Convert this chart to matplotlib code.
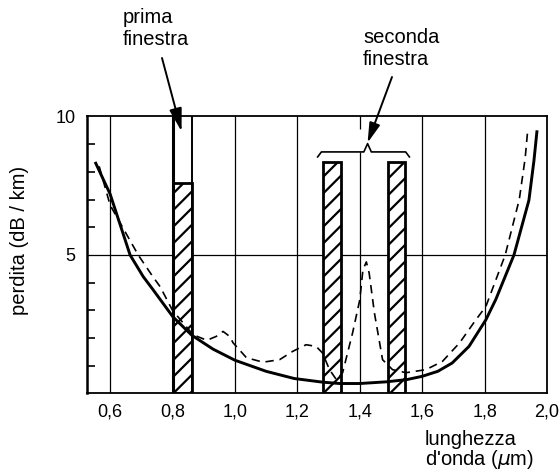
import matplotlib
matplotlib.use("Agg")
import matplotlib.pyplot as plt
from matplotlib.patches import ArrowStyle

plt.rcParams['font.family'] = ['Liberation Sans', 'DejaVu Sans']
plt.rcParams['hatch.linewidth'] = 1.6
plt.rcParams['mathtext.fontset'] = 'dejavusans'

# ---- data ----
solid_x = [0.552, 0.60, 0.664, 0.706, 0.738, 0.801, 0.862, 0.93, 1.00, 1.10, 1.19, 1.28,
           1.335, 1.40, 1.484, 1.55, 1.60, 1.65, 1.696, 1.75, 1.804, 1.836, 1.894,
           1.942, 1.958, 1.968]
solid_y = [8.36, 7.2, 5.0, 4.22, 3.74, 2.77, 2.1, 1.6, 1.2, 0.8, 0.54, 0.41,
           0.36, 0.36, 0.42, 0.5, 0.62, 0.8, 1.1, 1.7, 2.66, 3.4, 5.0,
           6.98, 8.4, 9.5]

dash_x = [0.565, 0.60, 0.69, 0.738, 0.76, 0.80, 0.866, 0.91, 0.94, 0.962, 0.983, 0.994,
          1.037, 1.09, 1.143, 1.185, 1.228, 1.26, 1.28, 1.303, 1.325, 1.345, 1.377,
          1.40, 1.41, 1.421, 1.43, 1.447, 1.473, 1.505, 1.548, 1.612, 1.665, 1.72,
          1.772, 1.804, 1.866, 1.911, 1.93, 1.938]
dash_y = [8.2, 6.8, 5.0, 4.2, 3.86, 3.0, 2.12, 1.92, 2.06, 2.24, 2.06, 1.83,
          1.29, 1.13, 1.22, 1.52, 1.76, 1.7, 1.47, 0.86, 0.5, 0.75, 2.19,
          3.38, 4.46, 4.75, 4.35, 2.9, 1.22, 0.86, 0.75, 0.86, 1.16, 1.83,
          2.66, 3.14, 5.0, 7.0, 8.5, 9.5]

band_left = [0.801, 1.283, 1.490]
band_right = [0.862, 1.340, 1.545]
band_top = [7.6, 8.35, 8.35]

x_ticks = [0.6, 0.8, 1.0, 1.2, 1.4, 1.6, 1.8, 2.0]
x_tick_labels = ['0,6', '0,8', '1,0', '1,2', '1,4', '1,6', '1,8', '2,0']
y_ticks = [5, 10]
y_minor = [1, 2, 3, 4, 6, 7, 8, 9]
grid_x = [0.6, 1.0, 1.2, 1.6, 1.8]

W, H = 559, 470
TXT = 14.5

# ---- figure ----
fig = plt.figure(figsize=(W / 100, H / 100), dpi=100)
ax = fig.add_axes([0.1551, 0.1628, 0.8235, 0.5894])
ax.set_xlim(0.525, 2.0)
ax.set_ylim(0, 10)

for s in ax.spines.values():
    s.set_linewidth(1.3)
ax.spines['left'].set_linewidth(1.8)

# grid
ax.vlines(grid_x, 0, 10, colors='black', lw=0.9, zorder=1)
ax.vlines([1.4], 0, 8.7, colors='black', lw=0.9, zorder=1)
ax.vlines([1.4], 9.55, 10, colors='black', lw=0.9, zorder=1)
ax.axhline(5, color='black', lw=0.9, zorder=1)

# bands
for l, r, t in zip(band_left, band_right, band_top):
    ax.bar(l, t, width=r - l, align='edge', facecolor='white', edgecolor='black',
           hatch='//', lw=2.0, zorder=2)
# first window full-height edges
ax.vlines([band_left[0]], 0, 10, colors='black', lw=2.2, zorder=3)
ax.vlines([band_right[0]], 0, 10, colors='black', lw=1.4, zorder=3)

# curves
ax.plot(solid_x, solid_y, color='black', lw=2.1, zorder=4, solid_capstyle='butt')
ax.plot(dash_x, dash_y, color='black', lw=1.2, dashes=(5, 3.5), zorder=4)

# ticks
ax.set_xticks(x_ticks)
ax.set_xticklabels(x_tick_labels)
ax.set_yticks(y_ticks)
ax.set_yticks(y_minor, minor=True)
ax.tick_params(axis='x', length=0, pad=7, labelsize=13)
ax.tick_params(axis='y', which='major', length=0, pad=8, labelsize=13)
ax.tick_params(axis='y', which='minor', length=6, width=1.2, direction='in')

# labels
fig.text(20 / W, 1 - 240 / H, 'perdita (dB / km)', rotation=90, ha='center',
         va='center', fontsize=TXT)
fig.text(425 / W, 1 - 445 / H, "lunghezza", ha='left', va='baseline', fontsize=TXT)
fig.text(425 / W, 1 - 465 / H, "d'onda ($\\mu$m)", ha='left', va='baseline',
         fontsize=TXT)

# annotations
fig.text(123 / W, 1 - 23 / H, 'prima', ha='left', va='baseline', fontsize=TXT)
fig.text(123 / W, 1 - 45 / H, 'finestra', ha='left', va='baseline', fontsize=TXT)
fig.text(363 / W, 1 - 43 / H, 'seconda', ha='left', va='baseline', fontsize=TXT)
fig.text(363 / W, 1 - 65 / H, 'finestra', ha='left', va='baseline', fontsize=TXT)

arr1 = ArrowStyle('-|>', head_length=1.4, head_width=0.38)
ax.annotate('', xy=(0.829, 9.46), xytext=(162, H - 58), textcoords='figure pixels',
            arrowprops=dict(arrowstyle=arr1, color='black', lw=1.4,
                            shrinkA=0, shrinkB=0, mutation_scale=10),
            annotation_clip=False, zorder=6)
arr2 = ArrowStyle('-|>', head_length=1.2, head_width=0.33)
ax.annotate('', xy=(1.425, 9.05), xytext=(392, H - 77), textcoords='figure pixels',
            arrowprops=dict(arrowstyle=arr2, color='black', lw=1.4,
                            shrinkA=0, shrinkB=0, mutation_scale=10),
            annotation_clip=False, zorder=6)

# brace over second window
bl = band_left[1] - 0.018
br = band_right[2] + 0.014
bm = 1.425
by = 8.72
ax.plot([bl, bl + 0.012, bm - 0.012, bm, bm + 0.012, br - 0.012, br],
        [by - 0.18, by, by, by + 0.3, by, by, by - 0.18],
        color='black', lw=1.2, zorder=5, clip_on=False)

fig.savefig('out.png', dpi=100)
